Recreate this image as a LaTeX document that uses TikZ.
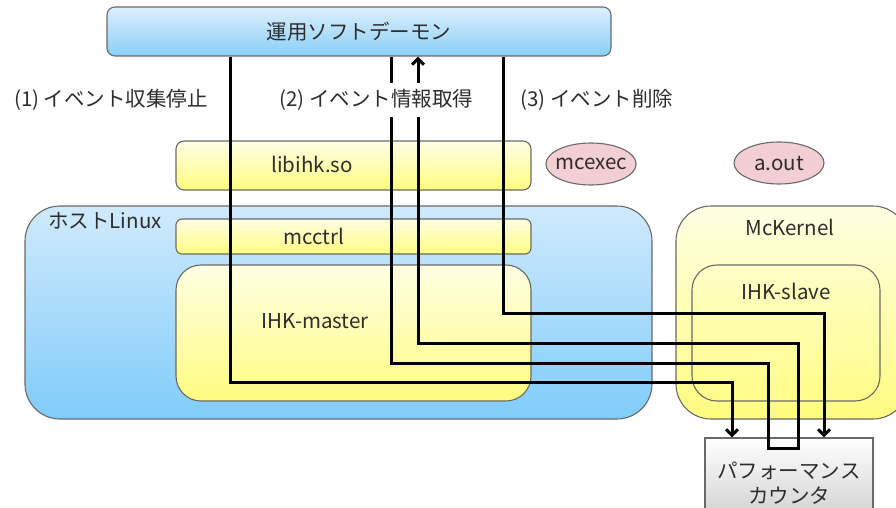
\documentclass[tikz,border=0pt]{standalone}
\usepackage{fontspec}
\setmainfont{Noto Sans CJK JP}
\usepgflibrary{shapes.geometric}
\usetikzlibrary{calc,arrows.meta}
\definecolor{skyA}{RGB}{221,239,253}
\definecolor{skyB}{RGB}{137,207,248}
\definecolor{hostA}{RGB}{208,234,252}
\definecolor{hostB}{RGB}{128,204,250}
\definecolor{lemonA}{RGB}{255,255,228}
\definecolor{lemonB}{RGB}{255,252,128}
\definecolor{rose}{RGB}{243,206,210}
\definecolor{frame}{RGB}{105,105,105}
\definecolor{ink}{RGB}{45,45,45}
\begin{document}
\begin{tikzpicture}[x=1pt,y=-1pt,>={Straight Barb[length=6pt,width=12pt]},
  every node/.style={text=ink,font=\fontsize{20.5}{25}\selectfont},
  panel/.style={draw=frame,line width=1.1pt,rounded corners=#1},
  lemon/.style={top color=lemonA,bottom color=lemonB},
  oval/.style={draw=frame,line width=1.1pt,fill=rose,ellipse,inner xsep=-4pt,inner ysep=0pt,minimum width=90pt,minimum height=42pt},
  flow/.style={line width=3pt},
  tag/.style={fill=white,inner xsep=3pt,inner ysep=6pt}]
\useasboundingbox (0,0) rectangle (896,508);
\node[panel=35pt,top color=hostA,bottom color=hostB,minimum width=627pt,minimum height=213pt] (host) at (338.5,312.5) {};
\node[panel=35pt,lemon,minimum width=232pt,minimum height=213pt] (mck) at (792,312.5) {};
\node[panel=25pt,lemon,minimum width=355pt,minimum height=136pt] (master) at (353.5,333) {};
\node[panel=25pt,minimum width=188pt,minimum height=136pt] (slave) at (786,333) {};
\node[panel=8pt,lemon,minimum width=355pt,minimum height=49pt] (libihk) at (353.5,165.5) {};
\node[panel=6pt,lemon,minimum width=355pt,minimum height=35pt] (mcctrl) at (353.5,236.5) {};
\node[panel=8pt,top color=skyA,bottom color=skyB,minimum width=504pt,minimum height=49pt] (daemon) at (359,31.5) {運用ソフトデーモン};
\node[oval] (mcexec) at (591,164) {mcexec};
\node[oval] (aout) at (779,163) {a.out};
\node[draw=frame,line width=1.1pt,top color=white,bottom color=gray!40,minimum width=168pt,minimum height=90pt,align=center] (counter) at (789,483) {パフォーマンス\\カウンタ};
\node (hostlbl) at (105,221) {ホストLinux};
\node (mcklbl) at (790,227) {McKernel};
\node (masterlbl) at (315,321) {IHK-master};
\node (slavelbl) at (786,291) {IHK-slave};
\node (libihklbl) at (312,164) {libihk.so};
\node (mcctrllbl) at (314,236) {mcctrl};
\coordinate (stopA) at (230,382);
\coordinate (stopB) at (732,382);
\coordinate (getA) at (391,363);
\coordinate (getB) at (768,363);
\coordinate (getC) at (798,448);
\coordinate (getD) at (418,343);
\coordinate (delA) at (503,313);
\coordinate (delB) at (824,313);
\draw[flow,->] (daemon.south -| stopA) |- (stopB) -- (counter.north -| stopB);
\draw[flow,->] (daemon.south -| getA) |- (getB) |- (getC) |- (getD) -- (daemon.south -| getD);
\draw[flow,->] (daemon.south -| delA) |- (delB) -- (counter.north -| delB);
\node[tag] (step1) at (111,100) {(1) イベント収集停止};
\node[tag] (step2) at (376.5,100) {(2) イベント情報取得};
\node[tag] (step3) at (597,100) {(3) イベント削除};
\end{tikzpicture}
\end{document}
